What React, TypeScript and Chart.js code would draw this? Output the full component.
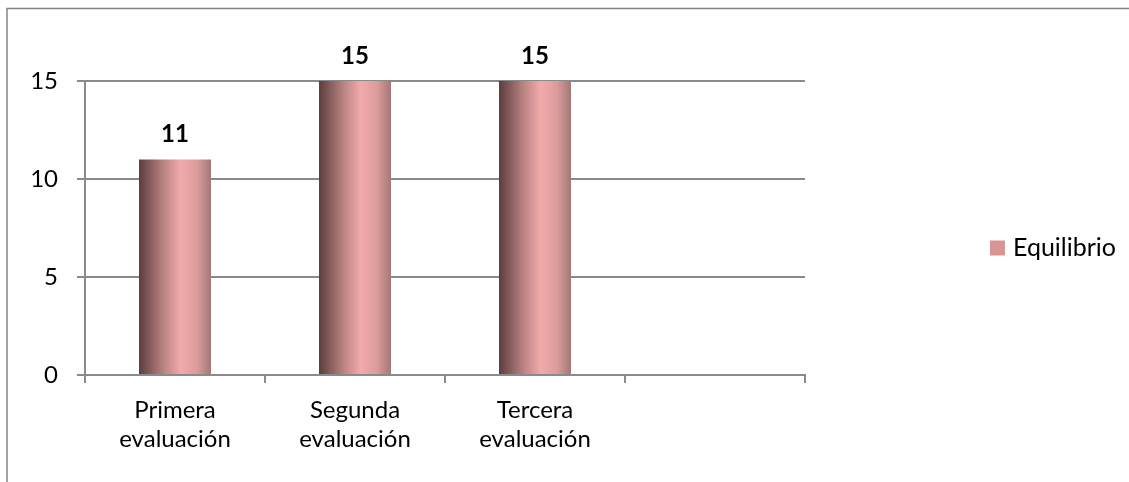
import React, { useEffect, useRef } from "react";
import { Chart, registerables } from "chart.js";

Chart.register(...registerables);

const categories: string[][] = [["Primera", "evaluación"], ["Segunda", "evaluación"], ["Tercera", "evaluación"], [""]];
const seriesName = "Equilibrio";
const seriesValues: (number | null)[] = [11, 15, 15, null];
const yTicks: number[] = [0, 5, 10, 15];

const FONT = "Lato, 'Open Sans', sans-serif";
const GRID = "#8a8a8a";
const LEGEND_COLOR = "#d99594";
const BAR_PCT = 0.4;

const framePlugin = {
  id: "frame",
  beforeDraw(chart: any) {
    const c = chart.ctx;
    c.save();
    c.strokeStyle = "#858585";
    c.lineWidth = 1.5;
    c.beginPath();
    c.moveTo(7, chart.height + 2);
    c.lineTo(7, 8.5);
    c.lineTo(chart.width + 2, 8.5);
    c.stroke();
    c.restore();
  },
};

const valueLabelPlugin = {
  id: "valueLabels",
  afterDatasetsDraw(chart: any) {
    const c = chart.ctx;
    c.save();
    c.font = `bold 24px ${FONT}`;
    c.fillStyle = "#000";
    c.textAlign = "center";
    c.textBaseline = "alphabetic";
    chart.data.datasets.forEach((ds: any, di: number) => {
      const meta = chart.getDatasetMeta(di);
      meta.data.forEach((el: any, i: number) => {
        const v = ds.data[i];
        if (v === null || v === undefined) return;
        c.fillText(String(v), el.x, el.y - 17);
      });
    });
    c.restore();
  },
};

const sideLegendPlugin = {
  id: "sideLegend",
  afterDraw(chart: any) {
    const c = chart.ctx;
    const area = chart.chartArea;
    const x = area.right + 185;
    const y = 248;
    c.save();
    chart.data.datasets.forEach((ds: any) => {
      c.fillStyle = LEGEND_COLOR;
      c.fillRect(x, y - 7.5, 15, 15);
      c.fillStyle = "#000";
      c.font = `25px ${FONT}`;
      c.textAlign = "left";
      c.textBaseline = "middle";
      c.fillText(ds.label, x + 23, y);
    });
    c.restore();
  },
};

export default function App() {
  const ref = useRef<HTMLCanvasElement | null>(null);
  useEffect(() => {
    if (!ref.current) return;
    const chart = new Chart(ref.current, {
      type: "bar",
      data: {
        labels: categories,
        datasets: [
          {
            label: seriesName,
            data: seriesValues,
            backgroundColor: (ctx: any) => {
              const ch = ctx.chart;
              const xs = ch.scales && ch.scales.x;
              if (ctx.type !== "data" || !xs) return LEGEND_COLOR;
              const cx = xs.getPixelForValue(ctx.dataIndex);
              const w = (xs.width / categories.length) * BAR_PCT;
              if (!isFinite(cx) || !isFinite(w) || w <= 0) return LEGEND_COLOR;
              const g = ch.ctx.createLinearGradient(cx - w / 2, 0, cx + w / 2, 0);
              g.addColorStop(0, "#5c3d3d");
              g.addColorStop(0.12, "#7d5656");
              g.addColorStop(0.35, "#bd8585");
              g.addColorStop(0.58, "#f2aaaa");
              g.addColorStop(0.8, "#dc9c9c");
              g.addColorStop(1, "#a57878");
              return g;
            },
            borderWidth: 0,
            barPercentage: BAR_PCT,
            categoryPercentage: 1,
          },
        ],
      },
      options: {
        responsive: false,
        animation: false,
        devicePixelRatio: 1,
        layout: { padding: { left: 8, top: 81, right: 324, bottom: 28 } },
        scales: {
          x: {
            grid: { drawOnChartArea: false, drawTicks: true, tickLength: 8, color: GRID, lineWidth: 2, offset: true },
            border: { display: true, color: GRID, width: 2 },
            ticks: { color: "#000", padding: 13, maxRotation: 0, autoSkip: false, font: { family: FONT, size: 24, lineHeight: 29 / 24 } },
            afterFit: (s: any) => { s.height = 79; },
          },
          y: {
            min: 0,
            max: 15,
            afterBuildTicks: (s: any) => { s.ticks = yTicks.map((v) => ({ value: v })); },
            grid: { color: GRID, lineWidth: 2, tickLength: 8 },
            border: { display: true, color: GRID, width: 2 },
            ticks: { color: "#000", padding: 19, font: { family: FONT, size: 24 } },
            afterFit: (s: any) => { s.width = 77; },
          },
        },
        plugins: {
          legend: { display: false },
          tooltip: { enabled: false },
        },
      },
      plugins: [framePlugin, valueLabelPlugin, sideLegendPlugin],
    });
    return () => chart.destroy();
  }, []);
  return (
    <div style={{ position: "absolute", left: 0, top: 0, width: 1129, height: 482, background: "#fff" }}>
      <canvas ref={ref} width={1129} height={482} />
    </div>
  );
}
